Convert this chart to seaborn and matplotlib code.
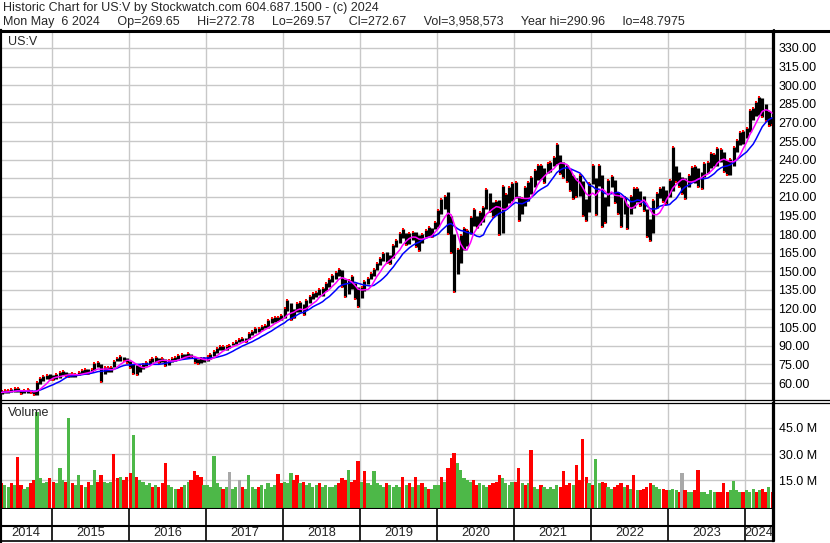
import matplotlib
matplotlib.use("Agg")
import matplotlib.pyplot as plt
from matplotlib.lines import Line2D
import pandas as pd
import seaborn as sns

W, H = 830, 543

# half-month bars (1st / 15th), May 2014 .. May 2024
price_hi = [
    # 2014 (May-Dec)
    53.8, 54.2, 54.5, 54.8, 55.8, 56.2, 54.6, 54.5, 54.8, 54.4, 53.8, 61.0, 64.0, 65.5, 66.8, 67.0,
    # 2015
    66.5, 67.5, 68.5, 69.5, 69.0, 68.0, 68.0, 67.5, 69.0, 70.5, 71.0, 71.0,
    71.5, 76.5, 77.0, 75.0, 72.5, 72.5, 73.0, 78.0, 80.5, 81.5, 81.0, 80.0,
    # 2016
    78.0, 75.5, 74.5, 74.0, 75.5, 77.0, 78.5, 80.5, 81.0, 80.5, 80.5, 79.0,
    78.5, 80.0, 81.0, 82.5, 83.5, 83.5, 84.0, 83.5, 81.0, 79.5, 80.0, 80.5,
    # 2017
    81.5, 83.5, 85.5, 88.0, 89.5, 90.0, 90.0, 91.0, 92.5, 94.0, 95.5, 96.5,
    96.5, 100.0, 102.0, 104.0, 104.5, 106.0, 106.5, 110.5, 112.0, 113.5, 113.5, 115.0,
    # 2018
    120.5, 126.5, 124.5, 120.0, 124.5, 125.0, 123.5, 126.5, 130.0, 132.5, 133.5, 136.0,
    136.5, 140.5, 144.0, 147.0, 149.5, 151.5, 151.0, 144.0, 143.0, 146.0, 141.0, 137.0,
    # 2019
    137.0, 142.0, 144.5, 148.5, 152.0, 157.0, 160.5, 165.0, 165.5, 163.0, 171.5, 175.0,
    180.5, 184.5, 181.0, 180.5, 182.0, 181.5, 179.0, 180.0, 183.0, 185.5, 185.0, 190.0,
    # 2020
    199.5, 208.5, 211.0, 214.0, 195.0, 180.0, 168.0, 179.5, 185.0, 183.0, 194.0, 200.0,
    195.0, 197.5, 202.0, 216.5, 213.0, 206.0, 207.0, 207.5, 218.5, 212.0, 218.0, 221.0,
    # 2021
    222.0, 211.0, 209.0, 218.0, 222.0, 226.0, 232.0, 236.0, 235.5, 233.5, 237.0, 238.5,
    242.5, 252.5, 244.0, 238.5, 236.0, 232.5, 227.5, 225.0, 228.0, 223.0, 208.0, 221.0,
    # 2022
    236.0, 225.0, 236.0, 228.0, 210.0, 224.0, 226.5, 224.0, 214.0, 210.0, 210.0, 204.0,
    211.0, 217.5, 217.5, 214.5, 210.5, 200.0, 192.0, 207.5, 213.0, 217.5, 218.5, 215.5,
    # 2023
    224.0, 250.0, 234.5, 230.0, 226.0, 225.0, 227.5, 234.0, 235.0, 233.5, 230.0, 237.0,
    238.5, 245.0, 244.5, 249.0, 248.5, 246.5, 240.0, 240.5, 250.5, 256.0, 262.0, 263.5,
    # 2024 (Jan-May)
    265.5, 280.0, 282.0, 286.5, 290.5, 290.0, 285.0, 279.0, 274.0,
]

price_lo = [
    51.0, 51.8, 52.0, 52.4, 52.8, 52.6, 51.4, 51.8, 52.2, 51.8, 50.0, 50.2, 59.5, 62.0, 63.6, 62.5,
    62.5, 63.0, 64.0, 66.5, 65.5, 64.5, 64.5, 65.0, 66.5, 67.5, 67.5, 67.0,
    68.5, 70.5, 73.0, 61.0, 67.0, 68.5, 68.5, 72.5, 77.5, 78.0, 77.5, 76.5,
    72.0, 67.5, 66.5, 69.0, 71.5, 73.5, 75.5, 77.0, 77.0, 76.5, 77.0, 73.5,
    74.5, 77.0, 78.0, 79.5, 80.5, 80.0, 80.5, 80.0, 76.0, 75.5, 76.5, 77.0,
    77.5, 79.5, 82.0, 84.5, 87.0, 87.0, 87.0, 88.0, 90.5, 91.5, 93.0, 93.5,
    93.0, 95.5, 99.0, 100.0, 101.5, 103.0, 104.0, 104.0, 108.0, 109.5, 110.0, 111.0,
    112.5, 118.0, 111.0, 112.5, 117.5, 117.0, 114.5, 118.5, 124.5, 128.0, 129.5, 131.0,
    130.5, 134.0, 137.5, 141.5, 144.0, 146.0, 137.0, 129.5, 132.0, 135.5, 128.0, 121.5,
    128.5, 134.5, 139.5, 143.5, 146.5, 151.0, 155.0, 158.5, 157.0, 156.0, 160.5, 169.5,
    173.0, 177.0, 171.5, 172.0, 175.0, 170.0, 166.5, 172.5, 178.0, 178.5, 178.0, 184.0,
    186.0, 196.0, 200.5, 180.0, 165.0, 133.5, 148.0, 157.0, 167.0, 170.5, 180.0, 186.5,
    185.0, 187.0, 189.5, 200.5, 197.5, 194.0, 195.5, 179.5, 181.0, 200.0, 205.0, 207.0,
    209.5, 190.5, 196.0, 203.0, 206.5, 212.0, 218.0, 223.5, 224.5, 221.5, 229.0, 230.0,
    235.0, 236.5, 228.5, 225.0, 222.0, 214.5, 208.5, 210.0, 211.0, 195.0, 190.5, 198.0,
    220.0, 195.5, 219.0, 186.0, 189.0, 203.0, 218.0, 205.0, 196.5, 186.0, 196.0, 184.5,
    196.0, 201.0, 205.5, 203.0, 199.0, 177.5, 174.5, 180.5, 201.0, 209.0, 206.0, 204.0,
    210.0, 215.0, 222.0, 218.0, 212.0, 208.0, 218.0, 222.0, 221.0, 218.0, 216.0, 226.0,
    229.0, 233.0, 235.0, 235.0, 238.0, 230.0, 227.5, 228.0, 235.0, 246.0, 252.0, 253.0,
    257.5, 262.5, 272.0, 275.0, 276.0, 274.5, 271.0, 267.5, 268.0,
]

# volume in millions of shares
volume_m = [
    13, 12, 11, 13, 12, 28, 12, 10, 11, 13, 15, 54, 16, 13, 14, 16,
    14, 13, 22, 15, 14, 51, 13, 12, 18, 12, 11, 14, 12, 21, 14, 18, 14, 13, 14, 30, 16, 17, 15, 17,
    19, 41, 17, 15, 14, 12, 13, 11, 12, 11, 13, 25, 12, 11, 10, 10, 11, 12, 14, 15, 20, 18, 17, 12,
    12, 11, 29, 13, 11, 10, 11, 19.6, 10, 11, 15, 11, 10, 18, 11, 10, 11, 12, 10, 13, 11, 12, 18.5, 13,
    14, 13, 19, 15, 18, 13, 14, 12, 13, 11, 12, 13, 11, 12, 11, 11, 12, 13, 16, 15, 21, 14, 15, 26,
    14, 20, 13, 12, 20, 13, 12, 11, 13, 12, 11, 12, 11, 17, 12, 13, 11, 17, 12, 13, 11, 10, 10, 12,
    12, 17, 14, 22, 27.5, 30.8, 24.7, 21, 16, 15, 14, 15, 12, 13, 12, 11, 12, 13, 14, 18, 16, 13, 12, 14,
    14, 22, 13, 12, 13, 32.5, 11, 10, 12, 11, 10, 11, 10, 12, 11, 20, 12, 13, 12, 23.7, 15, 38.7, 17, 13,
    12, 27, 13, 14, 13, 11, 10, 11, 12, 13, 11, 12, 10, 18, 9, 9, 10, 11, 13, 12, 11, 10, 10, 9,
    9, 10, 9, 8, 19, 9, 8, 8, 9, 20.7, 8, 8, 7, 9, 8, 8, 8, 13.5, 8, 9, 14.6, 9, 8, 8,
    9, 8, 10, 8, 9, 10, 8, 11, 8,
]

# g = up, r = down, x = unchanged
vol_colour = (
    "rggrgrrggrrggggr"
    "rgggrgrggrgrggrrgggrrgrr"
    "rgrggggrgrrrgggrrggrrrrg"
    "gggggrgxggxrggggrgggggrr"
    "gggrrgrggggrgggggrrrgrrr"
    "grggggggrggggrgrgrgrgrgg"
    "grgrrrgggggrrgggrrrrgggg"
    "rrgrgrggrgggggrrrrgrrrrg"
    "rggrrggrrrgrgrgrrrrgggrr"
    "gggrxrggrrgggggrrrrggggr"
    "gggrgrrgr"
)

year_labels = [str(y) for y in range(2014, 2025)]
price_ticks = list(range(60, 331, 15))
vol_ticks = [15, 30, 45]

sns.set_theme(style="white")
plt.rcParams["font.family"] = ["Liberation Sans", "DejaVu Sans"]
FS = 9.0

dates = pd.date_range("2014-05-01", "2024-05-01", freq="SMS")
df = pd.DataFrame({
    "date": dates + pd.Timedelta(days=7),
    "hi": price_hi,
    "lo": price_lo,
    "vol": [v * 1e6 for v in volume_m],
    "code": list(vol_colour),
})
df["mid"] = (df["hi"] + df["lo"]) / 2
df["ma_fast"] = df["mid"].rolling(5, min_periods=1).mean()
df["ma_slow"] = df["mid"].rolling(10, min_periods=1).mean()
down = df["mid"] < df["mid"].shift(1)

x0, x1 = pd.Timestamp("2014-04-30"), pd.Timestamp("2024-05-12")
years = pd.to_datetime([f"{y}-01-01" for y in range(2015, 2025)])

fig = plt.figure(figsize=(W / 100, H / 100), dpi=100)


def box(left, top, right, bottom):
    return [left / W, 1 - bottom / H, (right - left) / W, (bottom - top) / H]


ax = fig.add_axes(box(0, 31, 773, 400))
axv = fig.add_axes(box(0, 403, 773, 509))
axd = fig.add_axes(box(0, 509, 773, 541))

# price panel
ax.vlines(df["date"], df["lo"], df["hi"], color="black", lw=2.3, zorder=2)
ax.scatter(df.loc[down, "date"], df.loc[down, "lo"], s=4, marker="s", color="red", lw=0, zorder=2.5)
ax.scatter(df.loc[~down, "date"], df.loc[~down, "hi"], s=3, marker="s", color="red", lw=0, zorder=2.5)
sns.lineplot(data=df, x="date", y="ma_slow", ax=ax, color="#0000ff", lw=1.1, zorder=3)
sns.lineplot(data=df, x="date", y="ma_fast", ax=ax, color="#ff00ff", lw=1.1, zorder=3.5)
ax.set_xlim(x0, x1)
ax.set_ylim(46.3, 343.7)
ax.set_yticks(price_ticks)
ax.set_yticklabels([f"{t:.2f}" for t in price_ticks])
ax.set_xticks(years)

# volume panel
vmin = -1.7e6
colours = {"g": "#4db848", "r": "#ff0000", "x": "#a8a8a8"}
axv.bar(df["date"], df["vol"] - vmin, bottom=vmin, width=15.2,
        color=df["code"].map(colours), lw=0, zorder=2)
axv.set_xlim(x0, x1)
axv.set_ylim(vmin, 59.4e6)
axv.set_yticks([t * 1e6 for t in vol_ticks])
axv.set_yticklabels([f"{t:.1f} M" for t in vol_ticks])
axv.set_xticks(years)

for a in (ax, axv):
    a.set_xlabel("")
    a.set_ylabel("")
    a.set_facecolor("white")
    a.grid(True, color="#c8c8c8", lw=1.0)
    a.set_axisbelow(True)
    a.yaxis.tick_right()
    a.tick_params(axis="y", length=0, pad=4, labelsize=FS, labelcolor="black")
    a.tick_params(axis="x", length=0, labelbottom=False)
    for s in a.spines.values():
        s.set_color("black")
    a.spines["left"].set_linewidth(3)
    a.spines["right"].set_linewidth(1.6)
ax.spines["top"].set_linewidth(0)
ax.spines["bottom"].set_linewidth(0.9)
axv.spines["top"].set_linewidth(0.9)
axv.spines["bottom"].set_linewidth(1.5)

# year band
axd.set_xlim(x0, x1)
axd.set_ylim(0, 32)
axd.set_xticks([])
axd.set_yticks([])
axd.axhline(15.5, color="black", lw=1.5)
axd.vlines(years, 0, 32, color="black", lw=1.2)
edges = [x0] + list(years) + [x1]
for lab, a0, a1 in zip(year_labels, edges[:-1], edges[1:]):
    axd.text(a0 + (a1 - a0) / 2, 7.5, lab, ha="center", va="center", fontsize=FS + 0.3)
for s in axd.spines.values():
    s.set_color("black")
axd.spines["left"].set_linewidth(3)
axd.spines["right"].set_linewidth(1.6)
axd.spines["top"].set_linewidth(0)
axd.spines["bottom"].set_linewidth(1.2)


def line(xa, ya, xb, yb, lw):
    fig.add_artist(Line2D([xa / W, xb / W], [1 - ya / H, 1 - yb / H], color="black", lw=lw))


line(0, 30.5, W, 30.5, 2.2)
line(773, 400, W, 400, 0.9)
line(773, 403, W, 403, 0.9)
line(773.5, 30, 773.5, 541, 1.6)

fig.text(3 / W, 1 - 8 / H, "Historic Chart for US:V by Stockwatch.com 604.687.1500 - (c) 2024",
         ha="left", va="center", fontsize=FS)
fig.text(3 / W, 1 - 21.5 / H,
         "Mon May  6 2024     Op=269.65     Hi=272.78     Lo=269.57     Cl=272.67     "
         "Vol=3,958,573     Year hi=290.96     lo=48.7975",
         ha="left", va="center", fontsize=FS)
fig.text(8 / W, 1 - 42 / H, "US:V", ha="left", va="center", fontsize=FS)
fig.text(8 / W, 1 - 413 / H, "Volume", ha="left", va="center", fontsize=FS)

fig.savefig("out.png", dpi=100, facecolor="white")
